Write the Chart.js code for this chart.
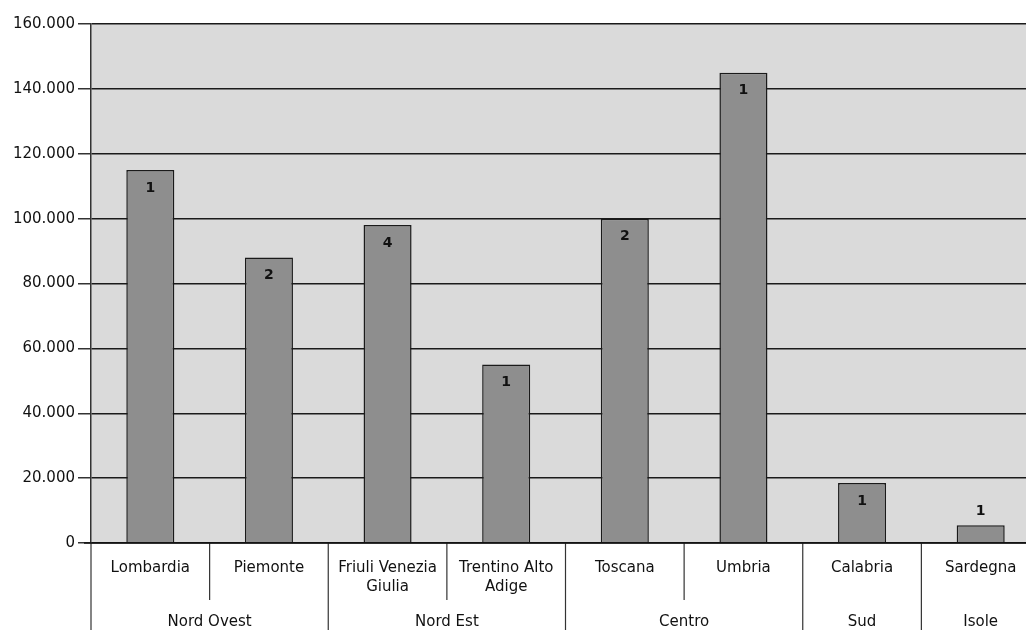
<!DOCTYPE html>
<html>
<head>
<meta charset="utf-8">
<script src="https://cdn.jsdelivr.net/npm/chart.js@4.4.0/dist/chart.umd.min.js"></script>
<style>
  html, body { margin: 0; padding: 0; background: #fff; overflow: hidden; }
  #wrap { width: 1046px; height: 630px; }
</style>
</head>
<body>
<div id="wrap"><canvas id="chart" width="1046" height="630"></canvas></div>
<script>
// regions and their area groups
const regions = [['Lombardia'], ['Piemonte'], ['Friuli Venezia', 'Giulia'], ['Trentino Alto', 'Adige'],
                 ['Toscana'], ['Umbria'], ['Calabria'], ['Sardegna']];
const areas = ['Nord Ovest', 'Nord Est', 'Centro', 'Sud', 'Isole'];
const areaSpans = [2, 2, 2, 1, 1];
const values = [115000, 88000, 98000, 55000, 100000, 145000, 18500, 5500];
const counts = [1, 2, 4, 1, 2, 1, 1, 1];
const yTicks = [0, 20000, 40000, 60000, 80000, 100000, 120000, 140000, 160000];

const FONT = '"DejaVu Sans", Verdana, sans-serif';

function fmt(v) {
    return String(v).replace(/\B(?=(\d{3})+(?!\d))/g, '.');
}

// grey plot background
const plotBg = {
    id: 'plotBg',
    beforeDraw(chart) {
        const a = chart.chartArea, ctx = chart.ctx;
        ctx.save();
        ctx.fillStyle = '#dadada';
        ctx.fillRect(a.left, a.top, a.right - a.left, a.bottom - a.top);
        ctx.restore();
    }
};

// count labels on bars + group row and separators below the axis
const extras = {
    id: 'extras',
    afterDraw(chart) {
        const ctx = chart.ctx, a = chart.chartArea, x = chart.scales.x;
        const meta = chart.getDatasetMeta(0);
        ctx.save();
        ctx.font = 'bold 14px ' + FONT;
        ctx.fillStyle = '#111';
        ctx.textAlign = 'center';
        ctx.textBaseline = 'middle';
        meta.data.forEach((bar, i) => {
            const h = bar.base - bar.y;
            const y = h < 30 ? bar.y - 14 : bar.y + 18;
            ctx.fillText(String(counts[i]), bar.x, y);
        });

        const step = x.getPixelForValue(1) - x.getPixelForValue(0);
        const bottom = chart.height;
        ctx.strokeStyle = '#333';
        ctx.lineWidth = 1.2;
        // left edge
        ctx.beginPath();
        ctx.moveTo(a.left, a.bottom);
        ctx.lineTo(a.left, bottom);
        ctx.stroke();
        let idx = 0;
        ctx.font = '15px ' + FONT;
        ctx.fillStyle = '#111';
        areas.forEach((name, g) => {
            const start = x.getPixelForValue(idx) - step / 2;
            const end = start + areaSpans[g] * step;
            // inner separators
            for (let k = 1; k < areaSpans[g]; k++) {
                const sx = start + k * step;
                ctx.beginPath();
                ctx.moveTo(sx, a.bottom);
                ctx.lineTo(sx, 600);
                ctx.stroke();
            }
            ctx.beginPath();
            ctx.moveTo(end, a.bottom);
            ctx.lineTo(end, bottom);
            ctx.stroke();
            ctx.fillText(name, (start + end) / 2, 622);
            idx += areaSpans[g];
        });
        // axis line extended to the left
        ctx.lineWidth = 1.5;
        ctx.strokeStyle = '#111';
        ctx.beginPath();
        ctx.moveTo(84, a.bottom);
        ctx.lineTo(a.right, a.bottom);
        ctx.stroke();
        ctx.restore();
    }
};

const ctx = document.getElementById('chart').getContext('2d');
new Chart(ctx, {
    type: 'bar',
    data: {
        labels: regions,
        datasets: [{
            data: values,
            backgroundColor: '#8e8e8e',
            borderColor: '#1a1a1a',
            borderWidth: 1.5,
            borderSkipped: 'bottom',
            barPercentage: 0.5,
            categoryPercentage: 0.81
        }]
    },
    options: {
        responsive: false,
        animation: false,
        layout: { padding: { top: 24, left: 9, right: 6, bottom: 0 } },
        plugins: {
            legend: { display: false },
            tooltip: { enabled: false }
        },
        scales: {
            x: {
                afterFit(s) { s.height = 87; },
                grid: { display: false, drawTicks: false },
                border: { display: false },
                ticks: {
                    padding: 16,
                    maxRotation: 0,
                    autoSkip: false,
                    color: '#111',
                    font: { family: FONT, size: 15, lineHeight: 1.25 }
                }
            },
            y: {
                min: 0,
                max: 160000,
                afterFit(s) { s.width = 82; },
                afterBuildTicks(s) { s.ticks = yTicks.map(v => ({ value: v })); },
                grid: {
                    color: '#1a1a1a',
                    lineWidth: 1.5,
                    tickLength: 13,
                    tickColor: '#333'
                },
                border: { display: true, color: '#333', width: 1.5 },
                ticks: {
                    padding: 3,
                    color: '#111',
                    font: { family: FONT, size: 15 },
                    callback: v => fmt(v)
                }
            }
        }
    },
    plugins: [plotBg, extras]
});
</script>
</body>
</html>
